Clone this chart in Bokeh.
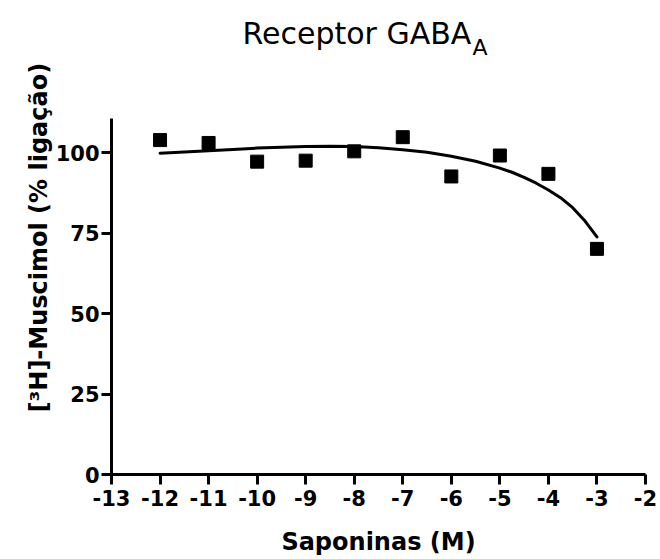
from bokeh.plotting import figure
from bokeh.models import Range1d, FixedTicker, Label
from bokeh.embed import file_html
from bokeh.resources import INLINE

# ---- data ----
log_conc = [-12, -11, -10, -9, -8, -7, -6, -5, -4, -3]
binding = [103.9, 103.0, 97.2, 97.5, 100.4, 104.8, 92.6, 99.1, 93.4, 70.1]

fit_x = [-12, -11.5, -11, -10.5, -10, -9.5, -9, -8.5, -8, -7.5, -7, -6.5,
         -6, -5.5, -5, -4.75, -4.5, -4.25, -4, -3.75, -3.5, -3.25, -3]
fit_y = [99.8, 100.2, 100.6, 101.0, 101.4, 101.7, 101.9, 102.0, 101.9, 101.5,
         100.9, 100.1, 98.9, 97.3, 95.2, 93.9, 92.3, 90.5, 88.4, 86.0, 82.9,
         78.8, 73.8]

x_ticks = [-13, -12, -11, -10, -9, -8, -7, -6, -5, -4, -3, -2]
x_tick_labels = ["-13", "-12", "-11", "-10", "-9", "-8", "-7", "-6", "-5", "-4", "-3", "-2"]
y_ticks = [0, 25, 50, 75, 100]
y_tick_labels = ["0", "25", "50", "75", "100"]
y_axis_extent = (0, 110.6)   # drawn part of the y axis

title_text = "Receptor GABA"
title_sub = "A"
x_label = "Saponinas (M)"
y_label = "[\u00b3H]-Muscimol (% ligação)"

FONT = "DejaVu Sans"

# The plotting frame reaches the top of the canvas so that the title
# (drawn as labels) is not clipped; the y axis line is bounded.
p = figure(width=660, height=559, output_backend="svg", toolbar_location=None,
           title=None,
           x_range=Range1d(-13, -2), y_range=Range1d(0, 147.26),
           min_border_left=111, min_border_right=15, min_border_top=0,
           min_border_bottom=85)
p.outline_line_color = None
p.grid.visible = False
p.background_fill_color = "white"
p.border_fill_color = "white"

for ax in (p.xaxis[0], p.yaxis[0]):
    ax.axis_line_width = 3
    ax.axis_line_color = "black"
    ax.major_tick_line_width = 3
    ax.major_tick_line_color = "black"
    ax.major_tick_out = 10
    ax.major_tick_in = 0
    ax.minor_tick_line_color = None
    ax.major_label_text_font = FONT
    ax.major_label_text_font_style = "bold"
    ax.major_label_text_font_size = "21px"
    ax.major_label_text_color = "black"
    ax.axis_label_text_font = FONT
    ax.axis_label_text_font_style = "bold"
    ax.axis_label_text_font_size = "24px"
    ax.axis_label_text_color = "black"

p.xaxis[0].ticker = FixedTicker(ticks=x_ticks)
p.xaxis[0].major_label_overrides = dict(zip(x_ticks, x_tick_labels))
p.xaxis[0].major_label_standoff = 5
p.xaxis[0].axis_label = x_label
p.xaxis[0].axis_label_standoff = 19

p.yaxis[0].ticker = FixedTicker(ticks=y_ticks)
p.yaxis[0].major_label_overrides = dict(zip(y_ticks, y_tick_labels))
p.yaxis[0].major_label_standoff = 2
p.yaxis[0].axis_label = y_label
p.yaxis[0].axis_label_standoff = 0
p.yaxis[0].bounds = y_axis_extent

p.line(fit_x, fit_y, line_width=3, line_color="black",
       line_cap="round", line_join="round")
p.scatter(log_conc, binding, marker="square", size=13,
          fill_color="black", line_color="black")

p.add_layout(Label(x=242, y=33, x_units="canvas", y_units="canvas",
                   text=title_text, text_font=FONT,
                   text_font_size="30px", text_color="black",
                   text_align="left", text_baseline="alphabetic"))
p.add_layout(Label(x=472, y=47, x_units="canvas", y_units="canvas",
                   text=title_sub, text_font=FONT,
                   text_font_size="22px", text_color="black",
                   text_align="left", text_baseline="alphabetic"))

open("out.html", "w").write(file_html(p, INLINE))
